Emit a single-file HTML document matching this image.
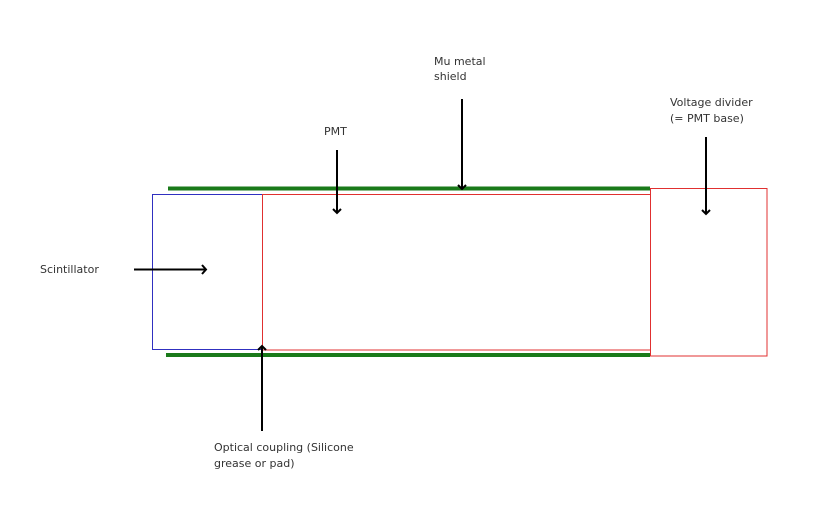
<!DOCTYPE html>
<html><head><style>
body{margin:0;background:#fff;width:824px;height:515px;overflow:hidden}
svg{display:block}
text{font-family:"DejaVu Sans",sans-serif;font-size:11px;fill:#333}
</style></head><body>
<svg width="824" height="515" viewBox="0 0 824 515">
<line x1="168" y1="188.5" x2="650" y2="188.5" stroke="#1a7a1a" stroke-width="4"/>
<line x1="166" y1="355" x2="650" y2="355" stroke="#1a7a1a" stroke-width="4"/>
<rect x="152.5" y="194.5" width="110" height="155" fill="none" stroke="#3030c0" stroke-width="1"/>
<rect x="262.5" y="194.5" width="388" height="155.5" fill="none" stroke="#e03030" stroke-width="1"/>
<rect x="650.5" y="188.5" width="116.5" height="167.5" fill="none" stroke="#e03030" stroke-width="1"/>
<g stroke="#000" stroke-width="2" fill="none">
<line x1="134" y1="269.5" x2="206" y2="269.5"/><path d="M202,265 L206,269.5 L202,274"/>
<line x1="337" y1="150" x2="337" y2="213"/><path d="M333,209 L337,213 L341,209"/>
<line x1="462" y1="99" x2="462" y2="189"/><path d="M458,185 L462,189 L466,185"/>
<line x1="706" y1="137" x2="706" y2="214"/><path d="M702,210 L706,214 L710,210"/>
<line x1="262" y1="431" x2="262" y2="346"/><path d="M258,350 L262,346 L266,350"/>
</g>
<text x="40" y="273">Scintillator</text>
<text x="324" y="135">PMT</text>
<text x="434" y="65">Mu metal</text>
<text x="434" y="80">shield</text>
<text x="670" y="106">Voltage divider</text>
<text x="670" y="122">(= PMT base)</text>
<text x="214" y="451">Optical coupling (Silicone</text>
<text x="214" y="467">grease or pad)</text>
</svg>
</body></html>
